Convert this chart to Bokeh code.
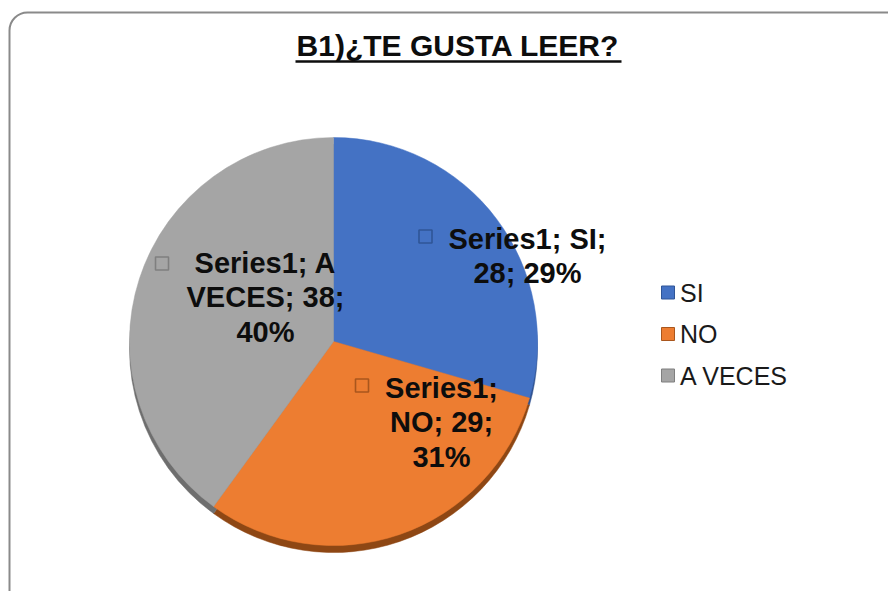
import textwrap
import numpy as np
from bokeh.plotting import figure
from bokeh.models import Range1d, BoxAnnotation
from bokeh.core.properties import value
from bokeh.embed import file_html
from bokeh.resources import INLINE

# ---------------- data ----------------
title = "B1)¿TE GUSTA LEER?"
series_name = "Series1"
categories = ["SI", "NO", "A VECES"]
values = [28, 29, 38]

# ---------------- styles / layout ----------------
colors = ["#4472C4", "#ED7D31", "#A5A5A5"]
shadow_colors = ["#2E518F", "#8E4714", "#6E6E6E"]
icon_colors = ["#2F5597", "#A9561D", "#7F7F7F"]
wrap_widths = [12, 8, 10]
label_centers = [(527, 238), (441, 387), (265, 262)]   # screen px (x, y of first line)
icon_centers = [(425, 236), (361.5, 385), (161.5, 263)]
FONT = value("Liberation Sans")
LABEL_FS = 29
LINE_STEP = 34.5

W, H = 888, 591


def Y(sy):
    return 597 - sy


p = figure(width=W, height=H, x_range=Range1d(0, W), y_range=Range1d(597 - H, 597),
           output_backend="svg", toolbar_location=None, min_border=0,
           x_axis_location=None, y_axis_location=None)
p.grid.visible = False
p.outline_line_color = None
p.background_fill_color = "white"
p.border_fill_color = "white"

# chart area border (rounded)
p.add_layout(BoxAnnotation(left=9, right=1200, top=Y(12), bottom=-300,
                           fill_alpha=0, line_color="#8a8a8a", line_alpha=1.0,
                           line_width=2.0, border_radius=18))

# title
p.text(x=[457.5], y=[Y(45)], text=[title], text_font=FONT, text_font_size="30px",
       text_font_style="bold", text_align="center", text_baseline="middle",
       text_color="#0d0d0d")
p.segment(x0=[295], x1=[621], y0=[Y(61)], y1=[Y(61)], line_width=2.5, line_color="#0d0d0d")

# pie
cx, cy, r = 333, 341, 204
total = sum(values)
frac = np.array(values) / total
cum = np.concatenate([[0], np.cumsum(frac)])
start = np.pi / 2 - 2 * np.pi * cum[:-1]
end = np.pi / 2 - 2 * np.pi * cum[1:]

# 3D side / shadow
p.wedge(x=cx, y=Y(cy) - 7, radius=r, radius_units="screen", start_angle=start,
        end_angle=end, direction="clock", fill_color=shadow_colors,
        line_color=shadow_colors, line_width=0.5)
p.wedge(x=cx, y=Y(cy), radius=r, radius_units="screen", start_angle=start,
        end_angle=end, direction="clock", fill_color=colors,
        line_color=colors, line_width=0.5)

# data labels
pcts = [round(v / total * 100) for v in values]
for i, (cat, v, pc) in enumerate(zip(categories, values, pcts)):
    full = f"{series_name}; {cat}; {v}; {pc}%"
    lines = textwrap.wrap(full, wrap_widths[i])
    lx, ly = label_centers[i]
    xs = [lx] * len(lines)
    ys = [Y(ly + k * LINE_STEP) for k in range(len(lines))]
    p.text(x=xs, y=ys, text=lines, text_font=FONT, text_font_size=f"{LABEL_FS}px",
           text_font_style="bold", text_align="center", text_baseline="middle",
           text_color="#0d0d0d")
    ix, iy = icon_centers[i]
    p.scatter(x=[ix], y=[Y(iy)], marker="square", size=13, fill_alpha=0,
              line_color=icon_colors[i], line_width=1.6)

# legend
leg_x, leg_y0, leg_step = 667.5, 292, 41.5
leg_ys = [Y(leg_y0 + i * leg_step) for i in range(len(categories))]
p.scatter(x=[leg_x] * len(categories), y=leg_ys, marker="square", size=13,
          fill_color=colors, line_color=icon_colors, line_width=1)
p.text(x=[leg_x + 12] * len(categories), y=leg_ys, text=categories,
       text_font=FONT, text_font_size="25px", text_align="left",
       text_baseline="middle", text_color="#1a1a1a")

open("out.html", "w").write(file_html(p, INLINE))
